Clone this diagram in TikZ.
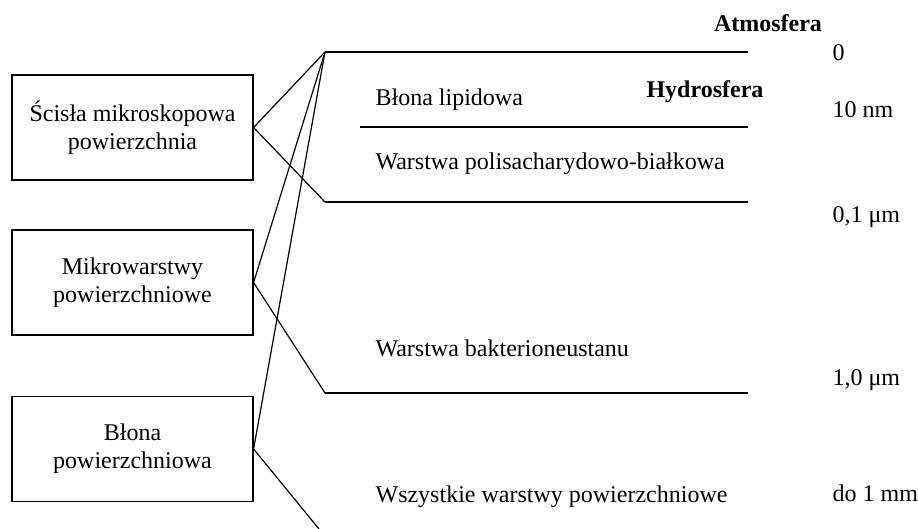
\documentclass[tikz,border=0pt]{standalone}
\usepackage{fontspec}
\setmainfont{Liberation Serif}
\begin{document}
\begin{tikzpicture}[x=0.5pt,y=-0.5pt,line width=0.6pt,
  every node/.style={font=\fontsize{12}{14}\selectfont},
  strefa/.style={draw,minimum width=120.5pt,minimum height=52.5pt,align=center,inner sep=0pt},
  warstwa/.style={anchor=west,inner sep=0pt},
  srodowisko/.style={inner sep=0pt,font=\fontsize{12}{14}\selectfont\bfseries}]
\useasboundingbox (0,0) rectangle (918,529);
\node[strefa] (scisla) at (132.5,127.5) {Ścisła mikroskopowa\\powierzchnia};
\node[strefa] (mikro) at (132.5,282.5) {Mikrowarstwy\\powierzchniowe};
\node[strefa] (blona) at (132.5,449) {Błona\\powierzchniowa};
\coordinate (g0) at (325,52);
\coordinate (g1) at (360,127);
\coordinate (g2) at (325,202);
\coordinate (g3) at (325,393);
\coordinate (g4) at (319,529);
\foreach \g in {g0,g1,g2,g3}
\draw (\g) -- (748,0 |- \g);
\draw (scisla.east) -- (g0);
\draw (scisla.east) -- (g2);
\draw (mikro.east) -- (g0);
\draw (mikro.east) -- (g3);
\draw (blona.east) -- (g0);
\draw (blona.east) -- (g4);
\node[srodowisko] (atmo) at (768,23) {Atmosfera};
\node[srodowisko] (hydro) at (705,92) {Hydrosfera};
\node[warstwa] (lipid) at (375,100) {Błona lipidowa};
\node[warstwa] (polisach) at (375,164) {Warstwa polisacharydowo-białkowa};
\node[warstwa] (bakter) at (375,348) {Warstwa bakterioneustanu};
\node[warstwa] (wszystkie) at (375,497) {Wszystkie warstwy powierzchniowe};
\foreach \y/\t in {53/0,110/10 nm,217/{0,1 μm},380/{1,0 μm},493/do 1 mm}
\node[warstwa] (d\y) at (832,\y) {\t};
\end{tikzpicture}
\end{document}
